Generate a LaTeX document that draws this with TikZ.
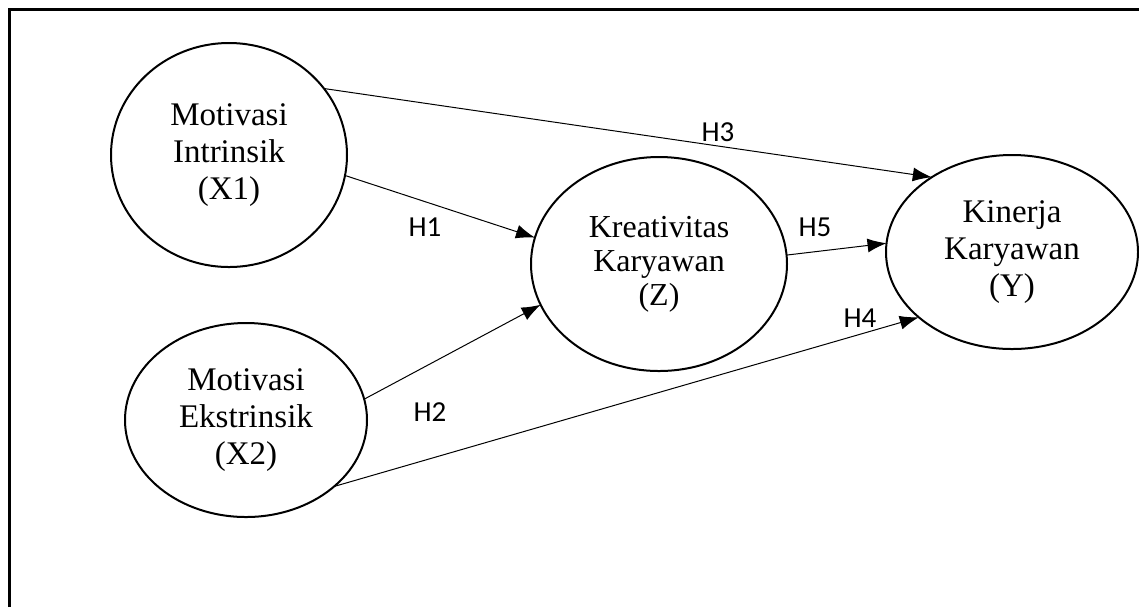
\documentclass[tikz,border=0pt]{standalone}
\usepackage{fontspec}
\setmainfont{Liberation Serif}
\newfontfamily\hfont{Carlito}
\usetikzlibrary{arrows.meta}
\usetikzlibrary{shapes.geometric}
\tikzset{>={Latex[length=9.5pt,width=7pt]}}
\tikzset{
    variabel/.style={draw, ellipse, line width=1pt, inner sep=0pt, outer sep=0pt, align=center, font=\fontsize{16.5}{18.5}\selectfont},
    hipotesis/.style={font=\hfont\fontsize{14.5}{16}\selectfont, inner sep=0pt},
    jalur/.style={->, line width=0.5pt}
}
\begin{document}
\begin{tikzpicture}[x=0.5pt, y=-0.5pt]
    \useasboundingbox (0,0) rectangle (1139,607);
    \draw[line width=1.5pt] (9,607) -- (9,9) -- (1139,9);

    \node[variabel, minimum width=118pt, minimum height=112pt] (intrinsik) at (229,155) {Motivasi\\Intrinsik\\(X1)};
    \node[variabel, minimum width=121pt, minimum height=97pt] (ekstrinsik) at (246,420) {Motivasi\\Ekstrinsik\\(X2)};
    \node[variabel, minimum width=128pt, minimum height=107pt, font=\fontsize{16}{17}\selectfont] (kreativitas) at (659,264) {Kreativitas\\Karyawan\\(Z)};
    \node[variabel, minimum width=126pt, minimum height=97pt] (kinerja) at (1012,252) {Kinerja\\Karyawan\\(Y)};

    \draw[jalur] (intrinsik.35) -- (kinerja.137);
    \draw[jalur] (intrinsik.-10) -- (kreativitas.168);
    \draw[jalur] (ekstrinsik.10) -- (kreativitas.199);
    \draw[jalur] (ekstrinsik.-37) -- (kinerja.215);
    \draw[jalur] (kreativitas.4) -- (kinerja.176);

    \node[hipotesis] (h1) at (425,227) {H1};
    \node[hipotesis] (h2) at (430,412) {H2};
    \node[hipotesis] (h3) at (718,132) {H3};
    \node[hipotesis] (h4) at (860,318) {H4};
    \node[hipotesis] (h5) at (815,227) {H5};
\end{tikzpicture}
\end{document}
